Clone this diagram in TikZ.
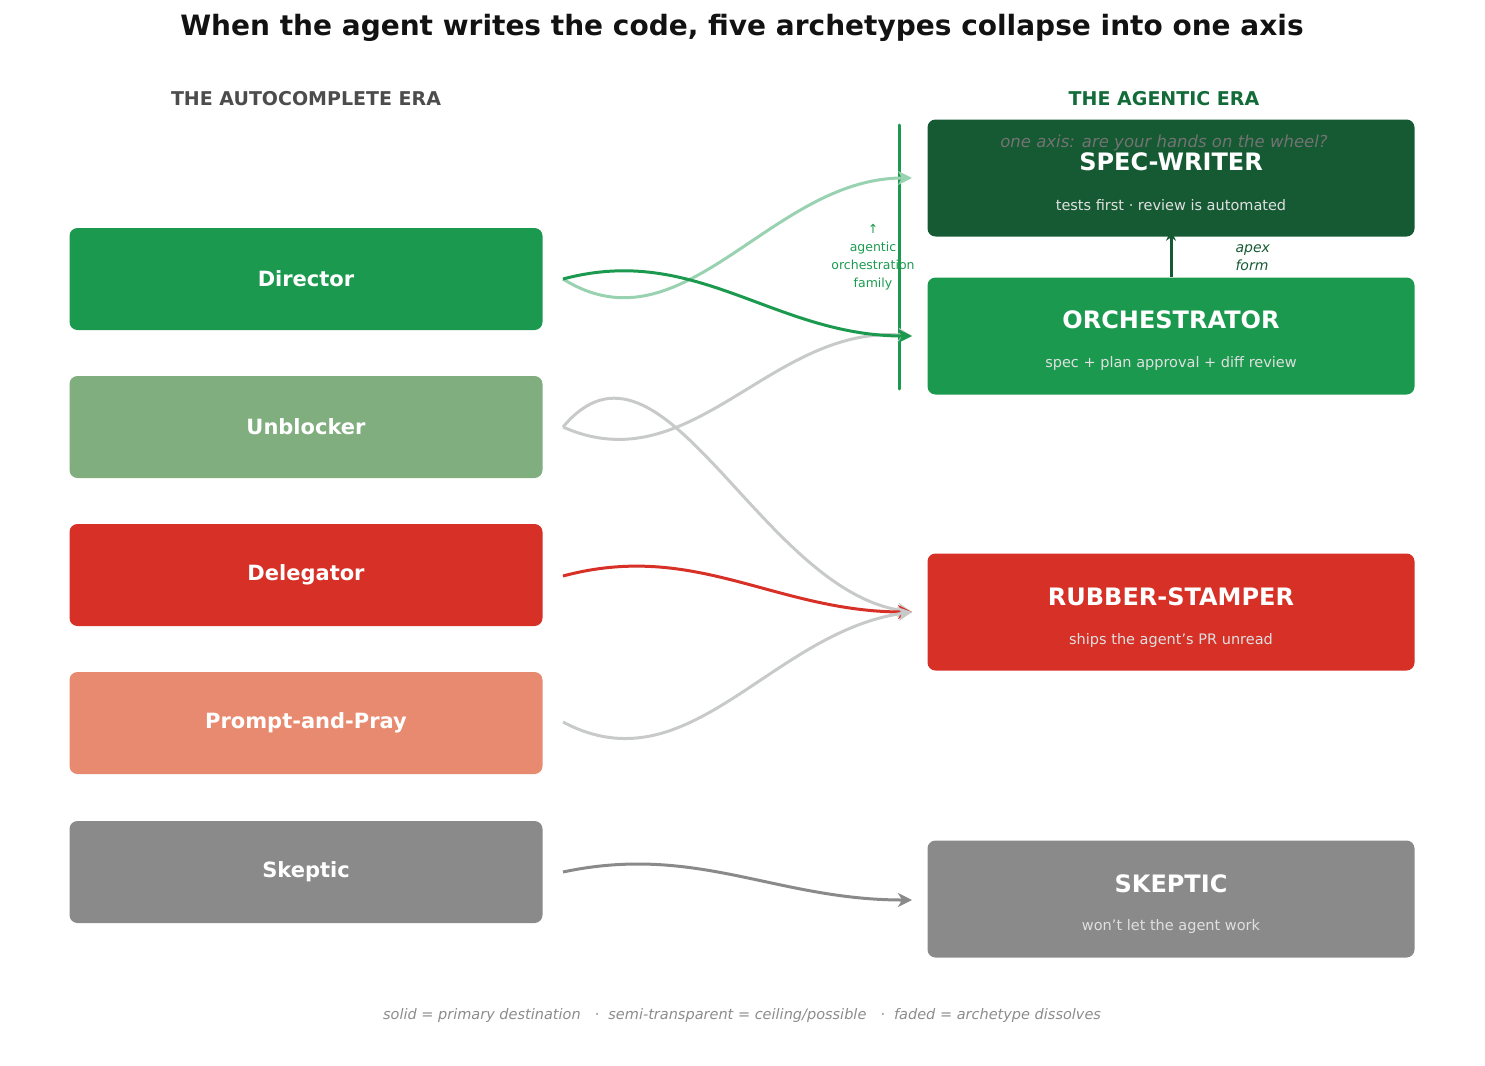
\documentclass[tikz,border=0pt]{standalone}
\usepackage{fontspec}
\setmainfont{DejaVu Sans}
\usetikzlibrary{arrows.meta}
\definecolor{cgreen}{HTML}{1B9A4F}
\definecolor{cdark}{HTML}{155A33}
\definecolor{csage}{HTML}{80AE7E}
\definecolor{cred}{HTML}{D63027}
\definecolor{csalmon}{HTML}{E88A6F}
\definecolor{cgray}{HTML}{8A8A8A}
\definecolor{clight}{HTML}{C8CACA}
\definecolor{cera}{HTML}{146B3A}
\begin{document}
\begin{tikzpicture}[x=1pt,y=-1pt,
 lbox/.style={rounded corners=8pt,minimum width=473pt,minimum height=102pt,text=white,font=\bfseries\fontsize{21}{25}\selectfont,inner sep=0},
 rbox/.style={rounded corners=8pt,minimum width=487pt,minimum height=117pt,inner sep=0},
 arr/.style={line width=3pt,-{Stealth[length=14pt,width=14pt,inset=4pt]}},
 rt/.style={text=white,font=\bfseries\fontsize{24}{28}\selectfont},
 rs/.style={text=white!88!black,font=\fontsize{14.5}{17}\selectfont}]
\useasboundingbox (0,0) rectangle (1485,1065);
\node[font=\bfseries\fontsize{28}{32}\selectfont,text=black!93] (title) at (742,28) {When the agent writes the code, five archetypes collapse into one axis};
\node[font=\bfseries\fontsize{19}{22}\selectfont,text=black!70] (lera) at (306,99) {THE AUTOCOMPLETE ERA};
\node[font=\bfseries\fontsize{19}{22}\selectfont,text=cera] (rera) at (1164,99) {THE AGENTIC ERA};
% left
\node[lbox,fill=cgreen] (dir) at (306,279) {Director};
\node[lbox,fill=csage] (unb) at (306,427) {Unblocker};
\node[lbox,fill=cred] (del) at (306,575) {Delegator};
\node[lbox,fill=csalmon] (pp) at (306,723) {Prompt-and-Pray};
\node[lbox,fill=cgray] (skl) at (306,872) {Skeptic};
% right
\node[rbox,fill=cdark] (spec) at (1171,178) {};
\node[rt] (spect) at (1171,162) {SPEC-WRITER};
\node[rs] (specs) at (1171,205) {tests first · review is automated};
\node[rbox,fill=cgreen] (orch) at (1171,336) {};
\node[rt] (orcht) at (1171,320) {ORCHESTRATOR};
\node[rs] (orchs) at (1171,363) {spec + plan approval + diff review};
\node[rbox,fill=cred] (rub) at (1171,612) {};
\node[rt] (rubt) at (1171,597) {RUBBER-STAMPER};
\node[rs] (rubs) at (1171,640) {ships the agent's PR unread};
\node[rbox,fill=cgray] (skr) at (1171,899) {};
\node[rt] (skrt) at (1171,884) {SKEPTIC};
\node[rs] (skrs) at (1171,926) {won't let the agent work};
\node[font=\itshape\fontsize{16.5}{20}\selectfont,text=black!55] (sub) at (1164,143) {one axis: are your hands on the wheel?};
% family line
\coordinate (ft) at (899,125); \coordinate (fb) at (899,389);
\draw[cgreen,line width=3pt,line cap=round] (ft) -- (fb);
\node[text=cgreen,font=\fontsize{12.5}{18}\selectfont,align=center] (fam) at (873,257) {↑\\agentic\\orchestration\\family};
% apex
\draw[cdark,line width=3pt,-{Stealth[length=10pt,width=10pt]}] (orch.north) -- ([yshift=6pt]spec.south);
\node[text=cdark,font=\itshape\fontsize{14}{18}\selectfont,align=left,anchor=west] (apex) at (1232,258) {apex\\form};
% anchors
\coordinate (d0) at (563,279); \coordinate (u0) at (563,427); \coordinate (e0) at (563,576);
\coordinate (p0) at (563,722); \coordinate (s0) at (563,872);
\coordinate (tS) at (912,178); \coordinate (tO) at (912,336); \coordinate (tR) at (912,612); \coordinate (tK) at (912,900);
\draw[arr,cgreen!45] (d0) to[out=-32,in=180] (tS);
\draw[arr,clight] (u0) to[out=-24,in=175] (tO);
\draw[arr,cgreen] (d0) to[out=15,in=180] (tO);
\draw[arr,clight] (u0) to[out=50,in=172] (tR);
\draw[arr,cred] (e0) to[out=15,in=180] (tR);
\draw[arr,clight] (p0) to[out=-28,in=-172] (tR);
\draw[arr,cgray] (s0) to[out=12,in=180] (tK);
\node[font=\itshape\fontsize{14.5}{18}\selectfont,text=black!45] (leg) at (742,1015) {solid = primary destination \ \ ·\ \ semi-transparent = ceiling/possible \ \ ·\ \ faded = archetype dissolves};
\end{tikzpicture}
\end{document}
